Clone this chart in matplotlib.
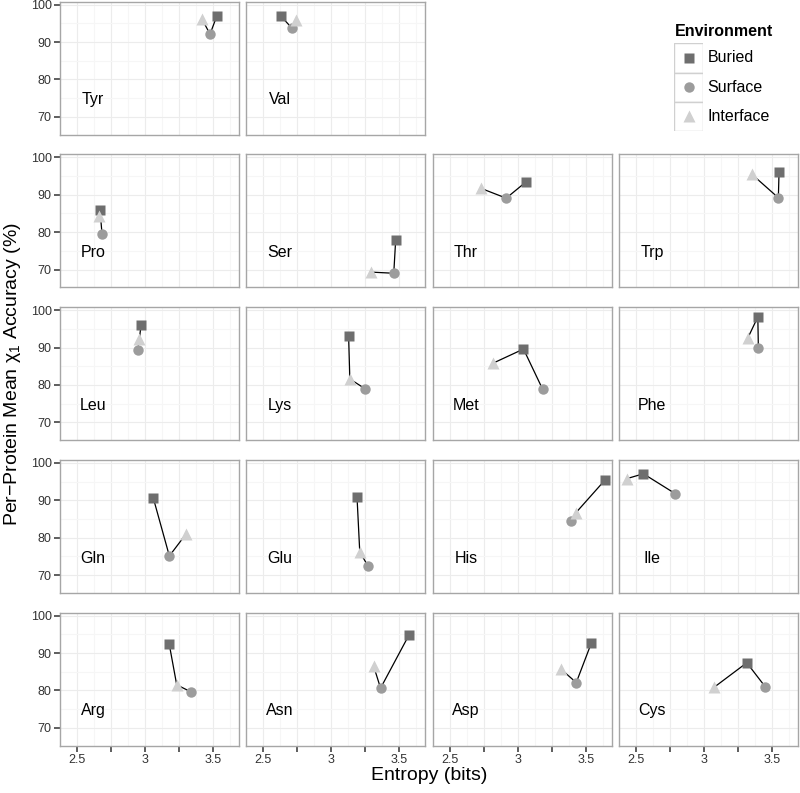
import matplotlib
matplotlib.use("Agg")
import matplotlib.pyplot as plt
import numpy as np

plt.rcParams['font.family'] = ['Liberation Sans', 'DejaVu Sans']

# Residues in alphabetical order (facets fill from the bottom-left)
residues = ['Arg', 'Asn', 'Asp', 'Cys', 'Gln', 'Glu', 'His', 'Ile', 'Leu',
            'Lys', 'Met', 'Phe', 'Pro', 'Ser', 'Thr', 'Trp', 'Tyr', 'Val']

buried_x = [3.18, 3.573, 3.541, 3.314, 3.063, 3.19, 3.644, 2.554, 2.973,
            3.128, 3.043, 3.395, 2.671, 3.474, 3.063, 3.551, 3.529, 2.629]
buried_y = [92.4, 94.9, 92.6, 87.4, 90.6, 90.8, 95.5, 97.1, 96.0,
            93.2, 89.6, 98.2, 86.0, 77.8, 93.5, 96.0, 96.9, 97.0]
surface_x = [3.34, 3.363, 3.431, 3.449, 3.181, 3.269, 3.392, 2.787, 2.948,
             3.252, 3.183, 3.399, 2.686, 3.46, 2.916, 3.546, 3.48, 2.712]
surface_y = [79.6, 80.6, 82.1, 81.0, 75.1, 72.5, 84.5, 91.8, 89.4,
             78.9, 78.9, 90.0, 79.5, 69.0, 89.1, 89.2, 92.1, 93.7]
interface_x = [3.235, 3.313, 3.318, 3.076, 3.304, 3.21, 3.429, 2.432, 2.96,
               3.137, 2.818, 3.321, 2.666, 3.296, 2.732, 3.351, 3.419, 2.74]
interface_y = [81.5, 86.4, 85.7, 80.9, 81.0, 76.2, 86.7, 95.8, 92.2,
               81.6, 85.8, 92.5, 84.2, 69.3, 91.7, 95.5, 96.3, 95.9]

environments = ['Buried', 'Surface', 'Interface']
env_markers = ['s', 'o', '^']
env_sizes = [7, 7.5, 9]
env_colors = ['#6e6e6e', '#9c9c9c', '#d0d0d0']

x_ticks = [2.5, 2.75, 3.0, 3.25, 3.5]
x_ticklabels = ['2.5', '', '3', '', '3.5']
y_ticks = [70, 80, 90, 100]

W, H = 800, 793
fig = plt.figure(figsize=(W / 100, H / 100), dpi=100)

panel_w, panel_h = 179, 133
col_step, row_step = 186.45, 152.75
left0, top0 = 60, 1.7

for i, res in enumerate(residues):
    row = 4 - i // 4
    col = i % 4
    left = left0 + col * col_step
    top = top0 + row * row_step
    ax = fig.add_axes([left / W, 1 - (top + panel_h) / H, panel_w / W, panel_h / H])

    xs = [buried_x[i], surface_x[i], interface_x[i]]
    ys = [buried_y[i], surface_y[i], interface_y[i]]
    order = np.argsort(xs)
    ax.plot(np.array(xs)[order], np.array(ys)[order], color='black', lw=0.9, zorder=2)
    for k in range(3):
        ax.plot(xs[k], ys[k], linestyle='none', marker=env_markers[k],
                markersize=env_sizes[k], color=env_colors[k], mec='none', zorder=3)

    ax.text(2.62, 74.5, res, ha='center', va='center', fontsize=11.5, color='black')

    ax.set_xlim(2.377, 3.693)
    ax.set_ylim(65.2, 100.8)
    ax.set_xticks(x_ticks)
    ax.set_yticks(y_ticks)
    ax.set_xticks(np.arange(2.625, 3.7, 0.25), minor=True)
    ax.set_yticks([75, 85, 95], minor=True)
    ax.grid(True, which='major', color='#ececec', lw=0.8)
    ax.grid(True, which='minor', color='#f6f6f6', lw=0.8)
    ax.set_axisbelow(True)
    for sp in ax.spines.values():
        sp.set_color('#a6a6a6')
        sp.set_linewidth(1.0)
    ax.tick_params(which='minor', length=0)
    ax.tick_params(which='major', direction='out', length=4, width=1.1,
                   color='#333333', labelsize=9, labelcolor='#333333', pad=2)

    if row == 4:
        ax.set_xticklabels(x_ticklabels)
    else:
        ax.tick_params(axis='x', which='major', length=0, labelbottom=False)
    if col == 0:
        ax.set_yticklabels([str(v) for v in y_ticks])
    else:
        ax.tick_params(axis='y', which='major', length=0, labelleft=False)

# Legend
leg_left, leg_top, key_w, key_h = 674.3, 43.3, 29, 29.2
lax = fig.add_axes([leg_left / W, 1 - (leg_top + 3 * key_h) / H,
                    key_w / W, 3 * key_h / H])
lax.set_xlim(0, 1)
lax.set_ylim(0, 3)
lax.axis('off')
for k, env in enumerate(environments):
    yk = 2 - k
    lax.add_patch(plt.Rectangle((0, yk), 1, 1, facecolor='white',
                                edgecolor='#d0d0d0', lw=1.0))
    lax.plot(0.5, yk + 0.5, marker=env_markers[k], markersize=env_sizes[k],
             color=env_colors[k], mec='none', linestyle='none')
    fig.text((leg_left + key_w + 4) / W, 1 - (leg_top + (k + 0.5) * key_h) / H, env,
             ha='left', va='center', fontsize=11.5)
fig.text(675 / W, 1 - 32 / H, 'Environment', ha='left', va='center',
         fontsize=11.5, fontweight='bold')

fig.text(429 / W, 1 - 775 / H, 'Entropy (bits)', ha='center', va='center', fontsize=14)
fig.text(13 / W, 1 - 374 / H, 'Per\u2212Protein Mean $\\mathregular{\u03c7_1}$ Accuracy (%)',
         ha='center', va='center', rotation=90, fontsize=14)

fig.savefig('out.png', dpi=100)
